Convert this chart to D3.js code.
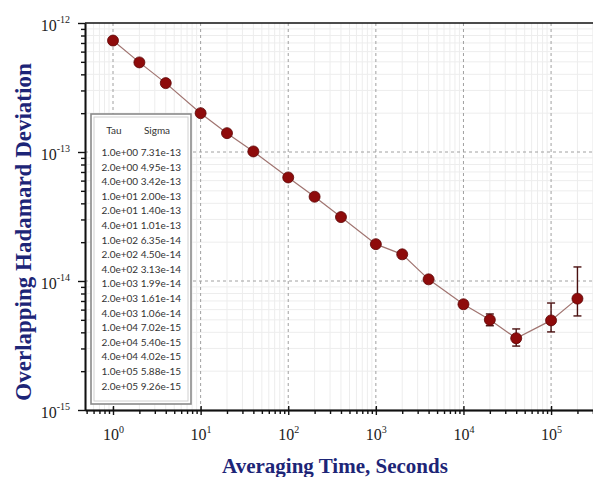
<!DOCTYPE html>
<html>
<head>
<meta charset="utf-8">
<script src="https://cdn.jsdelivr.net/npm/d3@7"></script>
<style>
  body { margin: 0; background: #fff; }
</style>
</head>
<body>
<div id="chart"></div>
<script>
// data
var tau = [1, 2, 4, 10, 20, 40, 100, 200, 400, 1000, 2000, 4000, 1e4, 2e4, 4e4, 1e5, 2e5];
var sigma = [7.31e-13, 4.95e-13, 3.42e-13, 2.00e-13, 1.40e-13, 1.01e-13, 6.35e-14, 4.50e-14, 3.13e-14,
             1.93e-14, 1.61e-14, 1.03e-14, 6.6e-15, 5.0e-15, 3.6e-15, 4.95e-15, 7.3e-15];
var errHi = [null, null, null, null, null, null, null, null, null, null, null, null, 7.0e-15, 5.55e-15, 4.25e-15, 6.75e-15, 1.285e-14];
var errLo = [null, null, null, null, null, null, null, null, null, null, null, null, 6.25e-15, 4.5e-15, 3.13e-15, 4.03e-15, 5.36e-15];

// legend table text
var tableTau = ["1.0e+00", "2.0e+00", "4.0e+00", "1.0e+01", "2.0e+01", "4.0e+01", "1.0e+02", "2.0e+02", "4.0e+02",
                "1.0e+03", "2.0e+03", "4.0e+03", "1.0e+04", "2.0e+04", "4.0e+04", "1.0e+05", "2.0e+05"];
var tableSigma = ["7.31e-13", "4.95e-13", "3.42e-13", "2.00e-13", "1.40e-13", "1.01e-13", "6.35e-14", "4.50e-14", "3.13e-14",
                  "1.99e-14", "1.61e-14", "1.06e-14", "7.02e-15", "5.40e-15", "4.02e-15", "5.88e-15", "9.26e-15"];

var xDecades = [0, 1, 2, 3, 4, 5];
var yDecades = [-15, -14, -13, -12];

var W = 593, H = 477;
var margin = {top: 23, right: 0, bottom: 67, left: 85};
var width = W - margin.left - margin.right,
    height = H - margin.top - margin.bottom;

var serif = "'Liberation Serif', 'Times New Roman', serif";
var navy = "#1d2577";

var svg = d3.select("#chart")
  .append("svg")
    .attr("width", W)
    .attr("height", H);

var g = svg.append("g")
    .attr("transform", "translate(" + margin.left + "," + margin.top + ")");

var x = d3.scaleLog()
    .domain([0.479, 3.01e5])
    .range([0, width]);

var y = d3.scaleLog()
    .domain([1e-15, 1e-12])
    .range([height, 0]);

// tick value lists
var xMinor = [];
[-1, 0, 1, 2, 3, 4, 5].forEach(function(e) {
  for (var k = 2; k <= 9; k++) {
    var v = k * Math.pow(10, e);
    if (v > x.domain()[0] && v < x.domain()[1]) xMinor.push(v);
  }
});
var xMajor = xDecades.map(function(e) { return Math.pow(10, e); });

var yMinor = [];
[-15, -14, -13].forEach(function(e) {
  for (var k = 2; k <= 9; k++) yMinor.push(k * Math.pow(10, e));
});
var yMajor = yDecades.map(function(e) { return Math.pow(10, e); });

// grid
var grid = g.append("g");
grid.selectAll(".vmin").data(xMinor).join("line")
    .attr("x1", d => x(d)).attr("x2", d => x(d))
    .attr("y1", 0).attr("y2", height)
    .attr("stroke", "#ededed").attr("stroke-width", 1);
grid.selectAll(".hmin").data(yMinor).join("line")
    .attr("x1", 0).attr("x2", width)
    .attr("y1", d => y(d)).attr("y2", d => y(d))
    .attr("stroke", "#ededed").attr("stroke-width", 1);
grid.selectAll(".vmaj").data(xMajor).join("line")
    .attr("x1", d => x(d)).attr("x2", d => x(d))
    .attr("y1", 0).attr("y2", height)
    .attr("stroke", "#a0a0a0").attr("stroke-width", 1)
    .attr("stroke-dasharray", "3,3");
grid.selectAll(".hmaj").data(yMajor.slice(1, 3)).join("line")
    .attr("x1", 0).attr("x2", width)
    .attr("y1", d => y(d)).attr("y2", d => y(d))
    .attr("stroke", "#a0a0a0").attr("stroke-width", 1)
    .attr("stroke-dasharray", "3,3");

// top frame line
g.append("line")
    .attr("x1", 0).attr("x2", width)
    .attr("y1", 0).attr("y2", 0)
    .attr("stroke", "#111").attr("stroke-width", 1.6);

// x axis
function styleAxis(sel) {
  sel.select(".domain").attr("stroke", "#111").attr("stroke-width", 1.6);
  sel.selectAll(".tick line").attr("stroke", "#111").attr("stroke-width", 1.4);
}
var xMinAx = g.append("g")
    .attr("transform", "translate(0," + height + ")")
    .call(d3.axisBottom(x).tickValues(xMinor).tickSize(4).tickSizeOuter(0).tickFormat(""));
styleAxis(xMinAx);
var xUp = g.append("g")
    .attr("transform", "translate(0," + height + ")")
    .call(d3.axisBottom(x).tickValues(xMajor).tickSize(-4).tickSizeOuter(0).tickFormat(""));
styleAxis(xUp);
var xAx = g.append("g")
    .attr("transform", "translate(0," + height + ")")
    .call(d3.axisBottom(x).tickValues(xMajor).tickSize(5).tickSizeOuter(0).tickPadding(10));
styleAxis(xAx);
xAx.selectAll(".tick text")
    .attr("font-family", serif)
    .attr("font-size", 16)
    .attr("fill", "#222")
    .attr("dy", "0.95em")
    .text("")
    .each(function(d) {
      var t = d3.select(this);
      t.append("tspan").text("10");
      t.append("tspan").attr("font-size", 10).attr("dy", "-0.75em").text(Math.round(Math.log10(d)));
    });

// y axis
var yMinAx = g.append("g")
    .call(d3.axisLeft(y).tickValues(yMinor).tickSize(4).tickSizeOuter(0).tickFormat(""));
styleAxis(yMinAx);
var yAx = g.append("g")
    .call(d3.axisLeft(y).tickValues(yMajor).tickSize(7).tickSizeOuter(0).tickPadding(8));
styleAxis(yAx);
yAx.selectAll(".tick text")
    .attr("font-family", serif)
    .attr("font-size", 16)
    .attr("fill", "#222")
    .attr("dy", "0.45em")
    .text("")
    .each(function(d) {
      var t = d3.select(this);
      t.append("tspan").text("10");
      t.append("tspan").attr("font-size", 10).attr("dy", "-0.8em").text(Math.round(Math.log10(d)));
    });

// legend table
var tbl = g.append("g").attr("transform", "translate(" + (91 - margin.left) + "," + (114 - margin.top) + ")");
tbl.append("rect")
    .attr("x", 0).attr("y", 0).attr("width", 100).attr("height", 290)
    .attr("fill", "#fff").attr("stroke", "#8a8a8a").attr("stroke-width", 1.6);
tbl.append("rect")
    .attr("x", 3).attr("y", 3).attr("width", 94).attr("height", 284)
    .attr("fill", "none").attr("stroke", "#d0d0d0").attr("stroke-width", 1);
var tfont = "Lato, 'Open Sans', sans-serif";
tbl.append("text")
    .attr("x", 23).attr("y", 20)
    .attr("text-anchor", "middle")
    .attr("font-family", tfont).attr("font-size", 10).attr("fill", "#333")
    .text("Tau");
tbl.append("text")
    .attr("x", 66).attr("y", 20)
    .attr("text-anchor", "middle")
    .attr("font-family", tfont).attr("font-size", 10).attr("fill", "#333")
    .text("Sigma");
tbl.selectAll(".row")
  .data(tableTau)
  .join("text")
    .attr("x", 10.5)
    .attr("y", (d, i) => 42 + i * 14.6)
    .attr("font-family", tfont).attr("font-size", 10).attr("fill", "#333")
    .text((d, i) => d + " " + tableSigma[i]);

// series
var pts = tau.map(function(t, i) { return {t: t, s: sigma[i], hi: errHi[i], lo: errLo[i]}; });

g.append("path")
    .datum(pts)
    .attr("fill", "none")
    .attr("stroke", "#a07470")
    .attr("stroke-width", 1.2)
    .attr("d", d3.line().x(d => x(d.t)).y(d => y(d.s)));

var eb = g.append("g").selectAll("g")
  .data(pts.filter(d => d.hi != null))
  .join("g")
    .attr("stroke", "#4a1010").attr("stroke-width", 1.4);
eb.append("line")
    .attr("x1", d => x(d.t)).attr("x2", d => x(d.t))
    .attr("y1", d => y(d.hi)).attr("y2", d => y(d.lo));
eb.append("line")
    .attr("x1", d => x(d.t) - 4).attr("x2", d => x(d.t) + 4)
    .attr("y1", d => y(d.hi)).attr("y2", d => y(d.hi));
eb.append("line")
    .attr("x1", d => x(d.t) - 4).attr("x2", d => x(d.t) + 4)
    .attr("y1", d => y(d.lo)).attr("y2", d => y(d.lo));

g.append("g").selectAll("circle")
  .data(pts)
  .join("circle")
    .attr("cx", d => x(d.t))
    .attr("cy", d => y(d.s))
    .attr("r", 5.5)
    .attr("fill", "#8e0b0b")
    .attr("stroke", "#5c0505")
    .attr("stroke-width", 0.8);

// axis titles
svg.append("text")
    .attr("x", 335).attr("y", 473)
    .attr("text-anchor", "middle")
    .attr("font-family", serif).attr("font-weight", "bold")
    .attr("font-size", 21).attr("fill", navy)
    .text("Averaging Time, Seconds");

svg.append("text")
    .attr("transform", "translate(31,232) rotate(-90)")
    .attr("text-anchor", "middle")
    .attr("font-family", serif).attr("font-weight", "bold")
    .attr("font-size", 23).attr("fill", navy)
    .text("Overlapping Hadamard Deviation");
</script>
</body>
</html>
